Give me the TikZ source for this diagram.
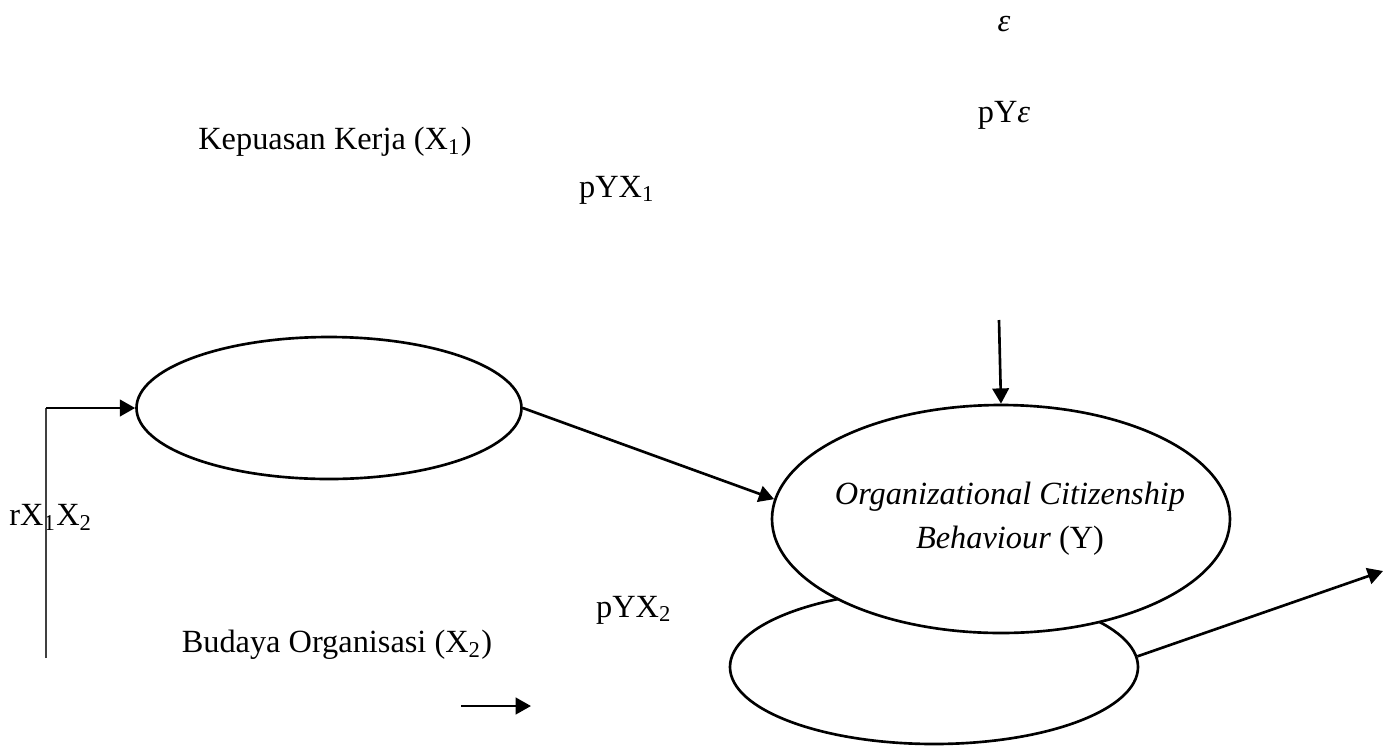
\documentclass[tikz,border=0pt]{standalone}
\usepackage{fontspec}
\setmainfont{Liberation Serif}
\usetikzlibrary{shapes.geometric,arrows.meta}
\tikzset{
  lbl/.style={inner sep=0pt, font=\fontsize{11}{13}\selectfont},
  latent/.style={ellipse, draw, line width=0.9pt, inner sep=0pt},
  conn/.style={line width=0.9pt, -{Triangle[length=5.2pt,width=5.6pt]}},
}
\begin{document}
\begin{tikzpicture}[x=0.34pt,y=-0.34pt]
\useasboundingbox (0,0) rectangle (1383,747);
% labels
\node[lbl] (eps) at (1004,24) {\textit{ε}};
\node[lbl] (pye) at (1004,115) {pY\textit{ε}};
\node[lbl] (kk) at (335,142) {Kepuasan Kerja (X\textsubscript{1})};
\node[lbl] (pyx1) at (617,190) {pYX\textsubscript{1}};
\node[lbl] (r) at (51,517) {rX\textsubscript{1}X\textsubscript{2}};
\node[lbl] (pyx2) at (634,610) {pYX\textsubscript{2}};
\node[lbl] (bo) at (337,645) {Budaya Organisasi (X\textsubscript{2})};
% ellipses
\node[latent, minimum width=385*0.34pt, minimum height=142*0.34pt] (k) at (329,408) {};
\node[latent, minimum width=408*0.34pt, minimum height=154*0.34pt] (b) at (934,667) {};
\node[latent, fill=white, minimum width=458*0.34pt, minimum height=228*0.34pt] (y) at (1001,519) {};
\node[lbl, align=center] (yt) at (1010,519)
  {\textit{Organizational Citizenship}\\[2pt]\textit{Behaviour} (Y)};
% free ends
\coordinate (c0) at (46,658);
\coordinate (c1) at (46,408);
\coordinate (e0) at (999,320);
\coordinate (out) at (1383,571);
\coordinate (a1) at (461,706);
\coordinate (a2) at (531,706);
% connectors
\draw[line width=0.7pt, black!75] (c0) -- (c1);
\draw[conn] (c1) -- (k.west);
\draw[conn] (k.east) -- (y.175);
\draw[conn] (e0) -- (y.north);
\draw[conn] (b.3) -- (out);
\draw[conn] (a1) -- (a2);
\end{tikzpicture}
\end{document}
